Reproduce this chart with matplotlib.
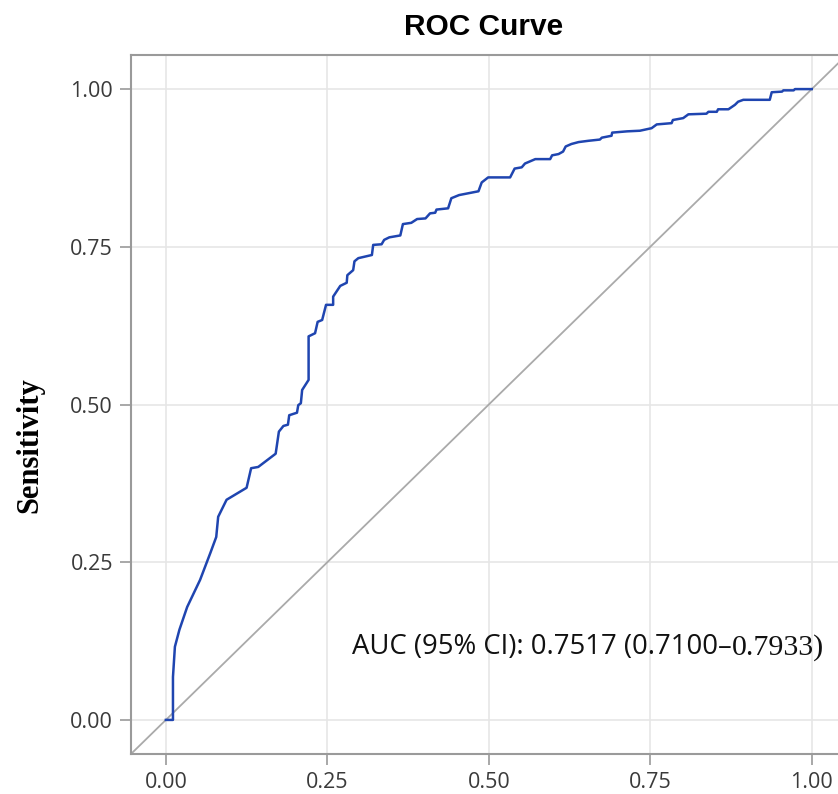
import matplotlib.pyplot as plt

# ROC points (false positive rate, sensitivity)
fpr = [0.000, 0.011, 0.011, 0.014, 0.021, 0.033, 0.053, 0.069, 0.078, 0.081,
       0.094, 0.125, 0.132, 0.143, 0.170, 0.175, 0.182, 0.189, 0.191, 0.203,
       0.205, 0.209, 0.211, 0.221, 0.221, 0.231, 0.235, 0.242, 0.248, 0.259,
       0.259, 0.270, 0.280, 0.281, 0.290, 0.292, 0.298, 0.319, 0.321, 0.334,
       0.338, 0.346, 0.363, 0.367, 0.380, 0.389, 0.402, 0.409, 0.417, 0.419,
       0.437, 0.442, 0.454, 0.484, 0.489, 0.499, 0.533, 0.540, 0.551, 0.556,
       0.572, 0.595, 0.598, 0.608, 0.615, 0.619, 0.628, 0.639, 0.654, 0.672,
       0.675, 0.690, 0.691, 0.714, 0.734, 0.752, 0.760, 0.783, 0.785, 0.801,
       0.809, 0.837, 0.840, 0.853, 0.855, 0.871, 0.881, 0.886, 0.894, 0.935,
       0.938, 0.954, 0.956, 0.972, 0.974, 1.000]
tpr = [0.000, 0.000, 0.068, 0.116, 0.143, 0.179, 0.222, 0.265, 0.290, 0.322,
       0.349, 0.368, 0.399, 0.401, 0.422, 0.457, 0.466, 0.468, 0.483, 0.487,
       0.499, 0.502, 0.523, 0.539, 0.608, 0.613, 0.631, 0.634, 0.658, 0.658,
       0.671, 0.688, 0.693, 0.705, 0.713, 0.727, 0.732, 0.737, 0.753, 0.754,
       0.761, 0.765, 0.768, 0.786, 0.788, 0.794, 0.795, 0.803, 0.804, 0.809,
       0.811, 0.827, 0.832, 0.838, 0.852, 0.860, 0.860, 0.874, 0.876, 0.882,
       0.889, 0.889, 0.895, 0.897, 0.901, 0.909, 0.913, 0.916, 0.918, 0.920,
       0.923, 0.926, 0.931, 0.933, 0.934, 0.938, 0.944, 0.946, 0.951, 0.954,
       0.960, 0.961, 0.964, 0.964, 0.968, 0.968, 0.975, 0.980, 0.983, 0.983,
       0.995, 0.996, 0.998, 0.998, 1.000, 1.000]

ticks = [0.00, 0.25, 0.50, 0.75, 1.00]
tick_labels = ["0.00", "0.25", "0.50", "0.75", "1.00"]
auc_text = "AUC (95% CI): 0.7517 (0.7100\u2013"
auc_tail = "0.7933)"

fig = plt.figure(figsize=(8.38, 7.94), dpi=100)
ax = fig.add_axes([0.1563, 0.0504, 0.854, 0.8803])

ax.plot([-0.1, 1.2], [-0.1, 1.2], color="#aaaaaa", lw=1.3, zorder=2)
ax.plot(fpr, tpr, color="#1f45b0", lw=1.8, zorder=3)

ax.set_xlim(-0.054, 1.054)
ax.set_ylim(-0.054, 1.054)
ax.set_xticks(ticks)
ax.set_xticklabels(tick_labels)
ax.set_yticks(ticks)
ax.set_yticklabels(tick_labels)
ax.grid(True, color="#e6e6e6", lw=1.2, zorder=0)
ax.set_axisbelow(True)
for s in ax.spines.values():
    s.set_color("#9a9a9a")
    s.set_linewidth(1.5)
ax.tick_params(axis="both", length=8, width=1.2, color="#9a9a9a",
               labelsize=15.5, labelcolor="#3a3a3a", pad=5)
for lab in ax.get_xticklabels() + ax.get_yticklabels():
    lab.set_family("Open Sans")

fig.text(484 / 838, 1 - 27 / 794, "ROC Curve", ha="center", va="center",
         fontsize=21.5, fontweight="bold", family="Liberation Sans")
fig.text(30 / 838, 1 - 445 / 794, "Sensitivity", rotation=90, ha="center",
         va="center", fontsize=22, fontweight="bold", family="Liberation Serif")

t1 = ax.text(0.288, 0.105, auc_text, ha="left", va="baseline",
             fontsize=19.8, family="Open Sans", color="#111111")
ax.annotate(auc_tail, xy=(1, 0), xycoords=t1, xytext=(0, 0),
            textcoords="offset points", ha="left", va="bottom",
            fontsize=21.5, family="Liberation Serif", color="#111111")

fig.savefig("out.png", dpi=100)
